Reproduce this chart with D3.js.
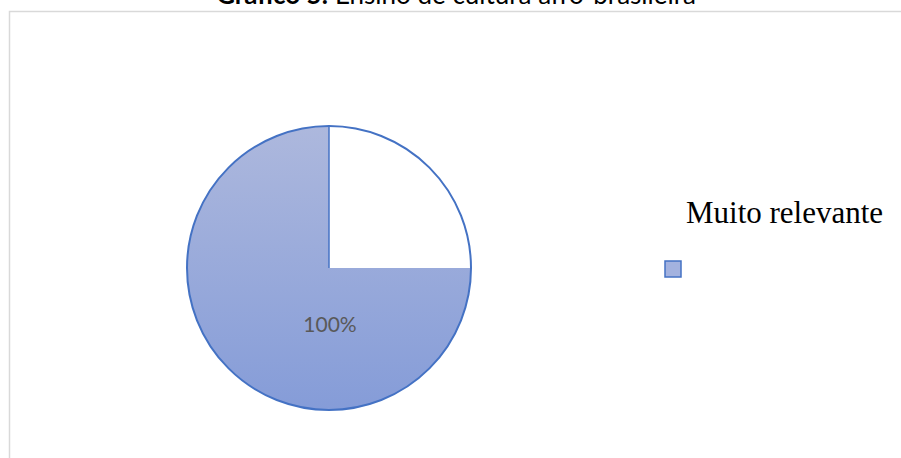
<!DOCTYPE html>
<html>
<head>
<meta charset="utf-8">
<script src="https://cdn.jsdelivr.net/npm/d3@7"></script>
<style>
  html, body { margin: 0; padding: 0; background: #fff; }
  svg { display: block; }
</style>
</head>
<body>
<svg id="chart" width="901" height="458"></svg>
<script>
// Chart data
const titleBold = "Gráfico 5:";
const titleRest = " Ensino de cultura afro-brasileira";
const categories = ["Muito relevante"];
const values = [100];
const valueLabels = ["100%"];
// Portion of the disc left unpainted (top-right quarter), as a share of the full turn
const blankShare = [0, 25];

const W = 901, H = 458;
const svg = d3.select("#chart");

// Outer frame
svg.append("rect")
  .attr("x", 9.5).attr("y", 11.5)
  .attr("width", W + 20).attr("height", H + 20)
  .attr("fill", "none")
  .attr("stroke", "#d9d9d9")
  .attr("stroke-width", 1.5);

// Title (mostly cropped by the top edge)
const title = svg.append("text")
  .attr("x", 456).attr("y", 4)
  .attr("text-anchor", "middle")
  .attr("font-family", "Lato, 'Open Sans', sans-serif")
  .attr("font-size", 26)
  .attr("fill", "#000");
title.append("tspan").attr("font-weight", "bold").text(titleBold);
title.append("tspan").text(titleRest);

// Gradient fill for the slice
const defs = svg.append("defs");
const grad = defs.append("linearGradient")
  .attr("id", "sliceFill")
  .attr("x1", 0).attr("y1", 0).attr("x2", 0).attr("y2", 1);
grad.append("stop").attr("offset", "0%").attr("stop-color", "#adb8dd");
grad.append("stop").attr("offset", "100%").attr("stop-color", "#859cd8");

const cx = 329, cy = 268, r = 142;
const g = svg.append("g").attr("transform", `translate(${cx},${cy})`);

const pie = d3.pie().sort(null).value(d => d);
const arc = d3.arc().innerRadius(0).outerRadius(r);
const slices = pie(values);

// Slice drawn from the data
g.selectAll("path.slice")
  .data(slices)
  .join("path")
  .attr("class", "slice")
  .attr("d", arc)
  .attr("fill", "url(#sliceFill)");

// Unpainted quarter
const turn = d3.scaleLinear().domain([0, 100]).range([0, 2 * Math.PI]);
g.append("path")
  .attr("d", d3.arc()({innerRadius: 0, outerRadius: r,
    startAngle: turn(blankShare[0]), endAngle: turn(blankShare[1])}))
  .attr("fill", "#fff");

// Radial edge at twelve o'clock
g.append("line")
  .attr("x1", 0).attr("y1", 0)
  .attr("x2", 0).attr("y2", -r)
  .attr("stroke", "#4472c4")
  .attr("stroke-width", 1.5);

// Outline
g.append("circle")
  .attr("r", r)
  .attr("fill", "none")
  .attr("stroke", "#4472c4")
  .attr("stroke-width", 2);

// Value label
g.selectAll("text.value")
  .data(slices)
  .join("text")
  .attr("class", "value")
  .attr("x", 1).attr("y", 64)
  .attr("text-anchor", "middle")
  .attr("font-family", "Lato, 'Open Sans', sans-serif")
  .attr("font-size", 21)
  .attr("fill", "#595959")
  .text((d, i) => valueLabels[i]);

// Legend
const legend = svg.append("g");
legend.selectAll("text")
  .data(categories)
  .join("text")
  .attr("x", 686).attr("y", 223)
  .attr("font-family", "'Liberation Serif', 'Times New Roman', serif")
  .attr("font-size", 31)
  .attr("fill", "#000")
  .text(d => d);
legend.selectAll("rect")
  .data(categories)
  .join("rect")
  .attr("x", 665).attr("y", 261)
  .attr("width", 16).attr("height", 16)
  .attr("fill", "#a3b2df")
  .attr("stroke", "#4472c4")
  .attr("stroke-width", 1.5);
</script>
</body>
</html>
